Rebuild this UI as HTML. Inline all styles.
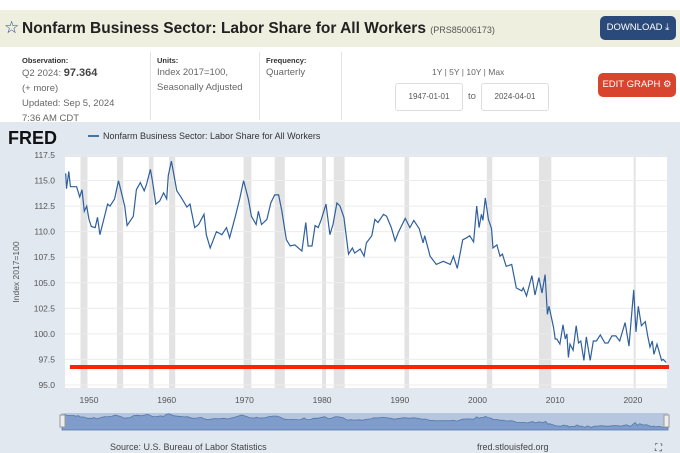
<!DOCTYPE html>
<html><head><meta charset="utf-8">
<style>
body{margin:0;width:680px;height:453px;overflow:hidden;background:#fff;font-family:"Liberation Sans",sans-serif;position:relative}
.hdr{position:absolute;left:0;top:10px;width:680px;height:37px;background:#efefdf}
.title{position:absolute;left:22px;top:20px;font-size:15.5px;font-weight:bold;color:#222}
.sid{font-size:9px;color:#555;font-weight:normal}
.star{position:absolute;left:4px;top:18px;font-size:17px;color:#2c4a8a}
.btn{position:absolute;color:#fff;font-size:9.5px;border-radius:5px;text-align:center;line-height:24px}
.lbl{position:absolute;font-size:7.5px;font-weight:bold;color:#333}
.val{position:absolute;font-size:9.5px;color:#666;line-height:15px}
.box{position:absolute;top:83px;width:66px;height:26px;border:1px solid #ddd;border-radius:3px;font-size:8px;color:#555;text-align:center;line-height:26px}
.sep{position:absolute;top:52px;width:1px;height:68px;background:#e3e3e3}
.chartbg{position:absolute;left:0;top:122px;width:680px;height:331px;background:#e1e8f0}
</style></head><body>
<div class="hdr"></div>
<div class="star">☆</div>
<div class="title">Nonfarm Business Sector: Labor Share for All Workers <span class="sid">(PRS85006173)</span></div>
<div class="btn" style="left:600px;top:16px;width:76px;height:24px;background:#2b4a7c">DOWNLOAD ⤓</div>
<div class="lbl" style="left:22px;top:56px">Observation:</div>
<div class="val" style="left:22px;top:66px">Q2 2024: <b style="font-size:11px;color:#444">97.364</b><br>(+ more)<br>Updated: Sep 5, 2024<br>7:36 AM CDT</div>
<div class="sep" style="left:150px"></div>
<div class="lbl" style="left:157px;top:56px">Units:</div>
<div class="val" style="left:157px;top:65px">Index 2017=100,<br>Seasonally Adjusted</div>
<div class="sep" style="left:259px"></div>
<div class="lbl" style="left:266px;top:56px">Frequency:</div>
<div class="val" style="left:266px;top:65px">Quarterly</div>
<div class="sep" style="left:341px"></div>
<div class="val" style="left:432px;top:65px;font-size:8.5px">1Y | 5Y | 10Y | Max</div>
<div class="box" style="left:395px">1947-01-01</div>
<div class="val" style="left:468px;top:89px">to</div>
<div class="box" style="left:481px">2024-04-01</div>
<div class="btn" style="left:598px;top:73px;width:78px;height:24px;background:#d9442f">EDIT GRAPH ⚙</div>
<div class="chartbg"></div>
<svg width="680" height="453" style="position:absolute;left:0;top:0" id="chart">
<text x="8" y="144" font-size="18" font-weight="bold" fill="#111" font-family="Liberation Sans">FRED</text>
<line x1="88" y1="136" x2="99" y2="136" stroke="#4572a7" stroke-width="2"/>
<text x="103" y="139" font-size="9" fill="#333">Nonfarm Business Sector: Labor Share for All Workers</text>
<rect x="65" y="157" width="602" height="231" fill="#fff"/>
<g id="rec"></g><g id="grid"></g><g id="xt"></g>
<path id="line" fill="none" stroke="#2f5f9e" stroke-width="1.2"/>
<line x1="70" y1="367" x2="669" y2="367" stroke="#ff2200" stroke-width="4"/>
<text transform="translate(19,272) rotate(-90)" font-size="8.5" fill="#555" text-anchor="middle">Index 2017=100</text>
<rect x="62" y="413" width="606" height="17" fill="#b5c6de"/>
<path id="nav" fill="#7f9ccb" stroke="#5577aa" stroke-width="0.8"/>
<rect x="60" y="415" width="5" height="12" fill="#eee" stroke="#999"/>
<rect x="664" y="415" width="5" height="12" fill="#eee" stroke="#999"/>
<text x="110" y="450" font-size="9" fill="#444">Source: U.S. Bureau of Labor Statistics</text>
<text x="477" y="450" font-size="9" fill="#444">fred.stlouisfed.org</text>
<text x="655" y="451" font-size="10" fill="#333">⛶</text>
</svg>
<script>
const yTicks=[95,97.5,100,102.5,105,107.5,110,112.5,115,117.5];
const xTicks=[1950,1960,1970,1980,1990,2000,2010,2020];
const recessions=[[1948.9,1949.8],[1953.6,1954.4],[1957.7,1958.3],[1960.3,1961.1],[1969.9,1970.9],[1973.9,1975.2],[1980.0,1980.5],[1981.5,1982.9],[1990.6,1991.2],[2001.2,2001.9],[2007.9,2009.5],[2020.1,2020.3]];
const years=[1947.0,1947.1,1947.4,1947.6,1948.4,1948.8,1949.1,1949.4,1949.7,1950.0,1950.3,1950.8,1951.1,1951.4,1951.8,1952.4,1952.7,1953.3,1953.8,1954.6,1954.9,1955.7,1956.1,1956.6,1957.1,1957.4,1957.9,1958.2,1958.6,1959.1,1959.6,1960.0,1960.2,1960.6,1961.3,1961.9,1962.6,1963.0,1963.6,1964.1,1964.8,1965.1,1965.6,1966.4,1967.1,1967.7,1968.1,1968.8,1969.4,1969.9,1970.5,1970.9,1971.5,1971.8,1972.2,1972.9,1973.4,1973.9,1974.4,1974.8,1975.4,1975.9,1976.5,1977.4,1977.9,1978.2,1978.7,1979.1,1979.5,1979.9,1980.5,1981.0,1981.4,1981.9,1982.3,1982.8,1983.4,1983.9,1984.2,1984.9,1985.4,1985.7,1986.4,1986.8,1987.2,1987.9,1988.3,1988.9,1989.4,1989.8,1990.7,1991.3,1991.8,1992.5,1993.0,1993.2,1993.9,1994.7,1995.6,1996.5,1996.9,1997.4,1998.1,1998.6,1999.0,1999.5,1999.9,2000.2,2000.5,2000.7,2001.0,2001.4,2001.8,2002.0,2002.5,2002.9,2003.2,2003.7,2004.4,2005.0,2005.7,2005.9,2006.3,2007.0,2007.4,2007.9,2008.3,2008.7,2009.0,2009.2,2009.8,2010.0,2010.2,2010.6,2011.0,2011.3,2011.5,2011.7,2011.9,2012.3,2012.7,2013.0,2013.3,2013.7,2014.0,2014.5,2014.9,2015.3,2015.8,2016.4,2016.8,2017.3,2017.8,2018.3,2019.0,2019.5,2020.1,2020.4,2020.7,2021.1,2021.6,2021.9,2022.2,2022.5,2022.7,2023.1,2023.7,2023.9,2024.3];
const values=[115.7,114.2,115.9,114.4,114.4,113.4,114.1,112.0,112.5,111.2,110.5,110.4,111.4,109.7,110.9,112.7,112.5,113.2,115.0,112.5,110.6,111.5,114.1,114.8,114.0,114.6,116.1,114.8,112.7,113.0,113.8,113.2,115.5,116.9,114.0,113.3,112.4,112.7,110.4,110.7,111.7,109.7,108.4,110.0,109.7,110.4,109.4,111.4,113.2,115.0,113.2,111.5,110.7,112.0,110.7,111.2,112.8,113.6,113.6,112.1,109.2,108.6,108.7,108.1,110.9,108.6,108.6,110.6,110.4,111.2,112.7,109.7,110.7,112.8,112.5,111.4,107.8,108.4,107.9,108.3,107.6,108.9,109.6,111.2,110.9,111.7,111.5,110.4,109.1,109.9,111.3,110.4,111.1,110.3,108.9,109.6,107.6,106.8,107.1,106.8,107.6,106.4,109.2,109.4,109.6,109.0,112.5,110.4,111.7,111.1,113.3,111.2,110.3,108.4,108.7,107.6,107.8,106.6,106.8,104.5,104.2,104.5,103.7,105.7,103.8,105.5,104.0,105.8,101.9,102.7,100.6,99.5,99.5,99.0,100.9,99.5,100.0,97.7,99.0,98.4,100.8,99.1,99.3,97.4,99.7,97.4,99.3,99.3,99.9,99.1,99.1,99.8,99.8,99.3,101.1,98.8,104.3,100.2,102.7,100.8,101.2,99.8,98.7,99.3,98.0,99.0,97.4,97.5,97.2];
const NS='http://www.w3.org/2000/svg';
const X=y=>89+(y-1950)*7.77;
const Y=v=>155+(117.5-v)*10.22;
function mk(t,a,p){const e=document.createElementNS(NS,t);for(const k in a)e.setAttribute(k,a[k]);p.appendChild(e);return e;}
const rec=document.getElementById('rec');
recessions.forEach(r=>{const e=mk('rect',{x:X(r[0]),y:157,width:Math.max(2,X(r[1])-X(r[0])),height:231,fill:'#e3e3e3'},rec);

});
const g=document.getElementById('grid');
yTicks.forEach(t=>{mk('line',{x1:65,x2:667,y1:Y(t),y2:Y(t),stroke:'#ececec','stroke-width':1},g);
const tx=mk('text',{x:55,y:Y(t)+3,'font-size':8.5,fill:'#555','text-anchor':'end'},g);tx.textContent=t.toFixed(1);

});
const xt=document.getElementById('xt');
xTicks.forEach(t=>{const tx=mk('text',{x:X(t),y:403,'font-size':8.5,fill:'#555','text-anchor':'middle'},xt);tx.textContent=t;

});
let d='';years.forEach((y,i)=>{d+=(i?'L':'M')+X(y).toFixed(1)+','+Y(values[i]).toFixed(1);});
const ln=document.getElementById('line');ln.setAttribute('d',d);


const NX=y=>62+(y-1947)*(606/77.3), NY=v=>413+(118-v)*0.7;
let nd='M62,430';years.forEach((y,i)=>{nd+='L'+NX(y).toFixed(1)+','+NY(values[i]).toFixed(1);});nd+='L668,430Z';
const nv=document.getElementById('nav');nv.setAttribute('d',nd);


</script>
</body></html>
